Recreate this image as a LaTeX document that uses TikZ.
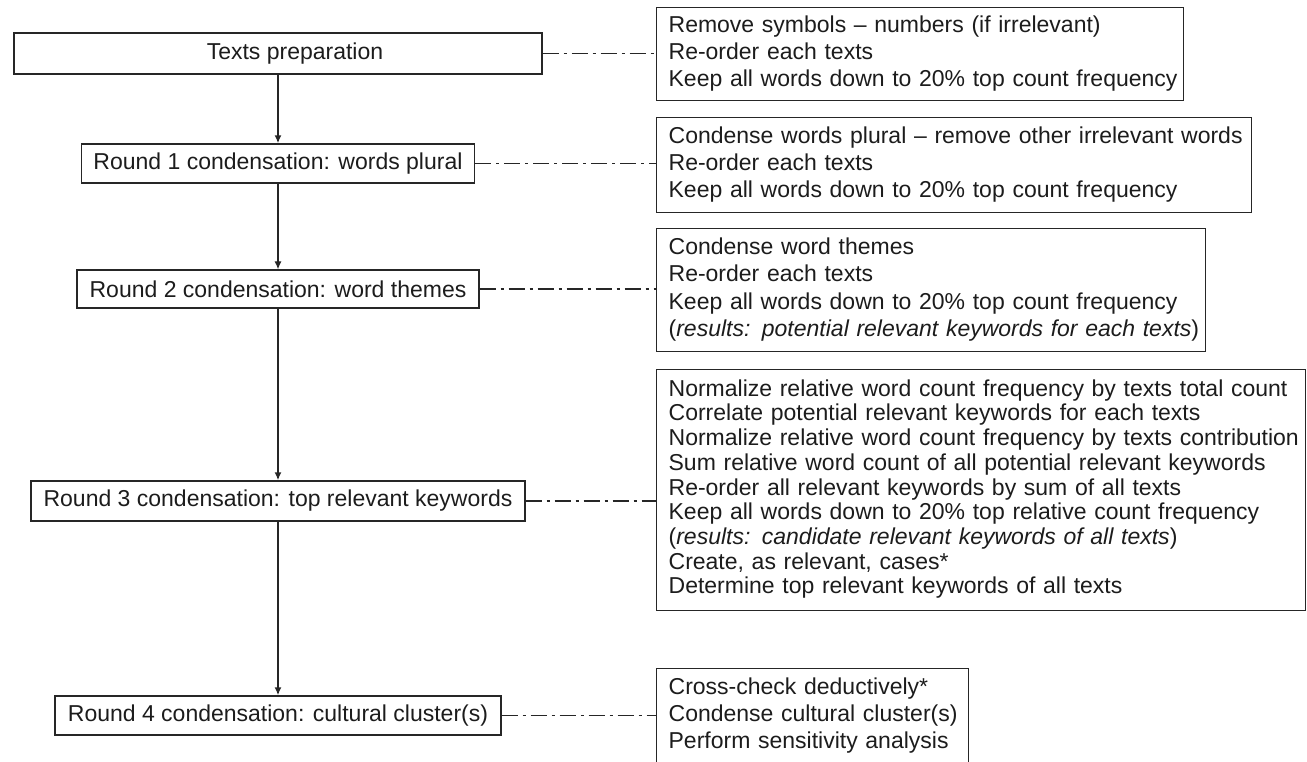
\documentclass[tikz,border=0pt]{standalone}
\usepackage{fontspec}
\setmainfont{Liberation Sans}
\usetikzlibrary{arrows.meta}
\definecolor{ink}{HTML}{1C1C1C}
\definecolor{rule}{HTML}{262626}
% one unbreakable line per row, flush left
\newcommand{\tasklines}[1]{\begin{tabular}{@{}l@{}}#1\end{tabular}}
\begin{document}
\begin{tikzpicture}[x=1pt,y=-1pt,
  every node/.style={font=\fontsize{23}{27.3}\selectfont, text=ink, inner sep=0pt},
  stage/.style={draw=rule, line width=1.3pt, anchor=center},
  notebox/.style={draw=rule, line width=1.3pt, anchor=north west, align=left, inner xsep=12pt},
  flow/.style={draw=rule, line width=2.2pt, -{Latex[length=8pt,width=7pt]}},
  thinflow/.style={flow, line width=1.2pt},
  link/.style={draw=rule, line width=1.1pt, dash pattern=on 16pt off 5pt on 3pt off 5pt},
]
\useasboundingbox (0,0) rectangle (1307,762);
\clip (0,0) rectangle (1307,762);

% main stages
\node[stage, minimum width=528pt, minimum height=41pt] (prep) at (278,53.5) {\hspace*{34pt}Texts preparation};
\node[stage, minimum width=393pt, minimum height=39pt] (r1) at (278,163.5) {Round 1 condensation: words plural};
\node[stage, minimum width=402pt, minimum height=38pt] (r2) at (278,289) {Round 2 condensation: word themes};
\node[stage, minimum width=494pt, minimum height=40pt] (r3) at (278,501) {Round 3 condensation: top relevant keywords};
\node[stage, minimum width=446pt, minimum height=39pt] (r4) at (278,715.5) {Round 4 condensation: cultural cluster(s)};

% task lists
\node[notebox, text width=503pt, minimum height=93pt] (prepnote) at (656,7) {\tasklines{%
Remove symbols -- numbers (if irrelevant)\\
Re-order each texts\\
Keep all words down to 20\% top count frequency}};

\node[notebox, text width=571pt, minimum height=95pt] (r1note) at (656,117) {\tasklines{%
Condense words plural -- remove other irrelevant words\\
Re-order each texts\\
Keep all words down to 20\% top count frequency}};

\node[notebox, text width=525pt, minimum height=123pt] (r2note) at (656,228) {\tasklines{%
Condense word themes\\
Re-order each texts\\
Keep all words down to 20\% top count frequency\\
(\textit{results: potential relevant keywords for each texts})}};

\node[notebox, text width=625pt, minimum height=241pt,
      font=\fontsize{23}{24.7}\selectfont] (r3note) at (656,369) {\tasklines{%
Normalize relative word count frequency by texts total count\\
Correlate potential relevant keywords for each texts\\
Normalize relative word count frequency by texts contribution\\
Sum relative word count of all potential relevant keywords\\
Re-order all relevant keywords by sum of all texts\\
Keep all words down to 20\% top relative count frequency\\
(\textit{results: candidate relevant keywords of all texts})\\
Create, as relevant, cases*\\
Determine top relevant keywords of all texts}};

\node[notebox, text width=288pt, minimum height=95pt] (r4note) at (656,668) {\tasklines{%
Cross-check deductively*\\
Condense cultural cluster(s)\\
Perform sensitivity analysis}};

% flow arrows
\draw[flow] (prep.south) -- (prep.south |- r1.north);
\draw[thinflow] (r1.south) -- (r1.south |- r2.north);
\draw[flow] (r2.south) -- (r2.south |- r3.north);
\draw[flow] (r3.south) -- (r3.south |- r4.north);

% dash-dot links to the task lists
\draw[link] (prep.east) -- (prepnote.west |- prep.east);
\draw[link] (r1.east) -- (r1note.west |- r1.east);
\draw[link] (r2.east) -- (r2note.west |- r2.east);
\draw[link] (r3.east) -- (r3note.west |- r3.east);
\draw[link] (r4.east) -- (r4note.west |- r4.east);
\end{tikzpicture}
\end{document}
